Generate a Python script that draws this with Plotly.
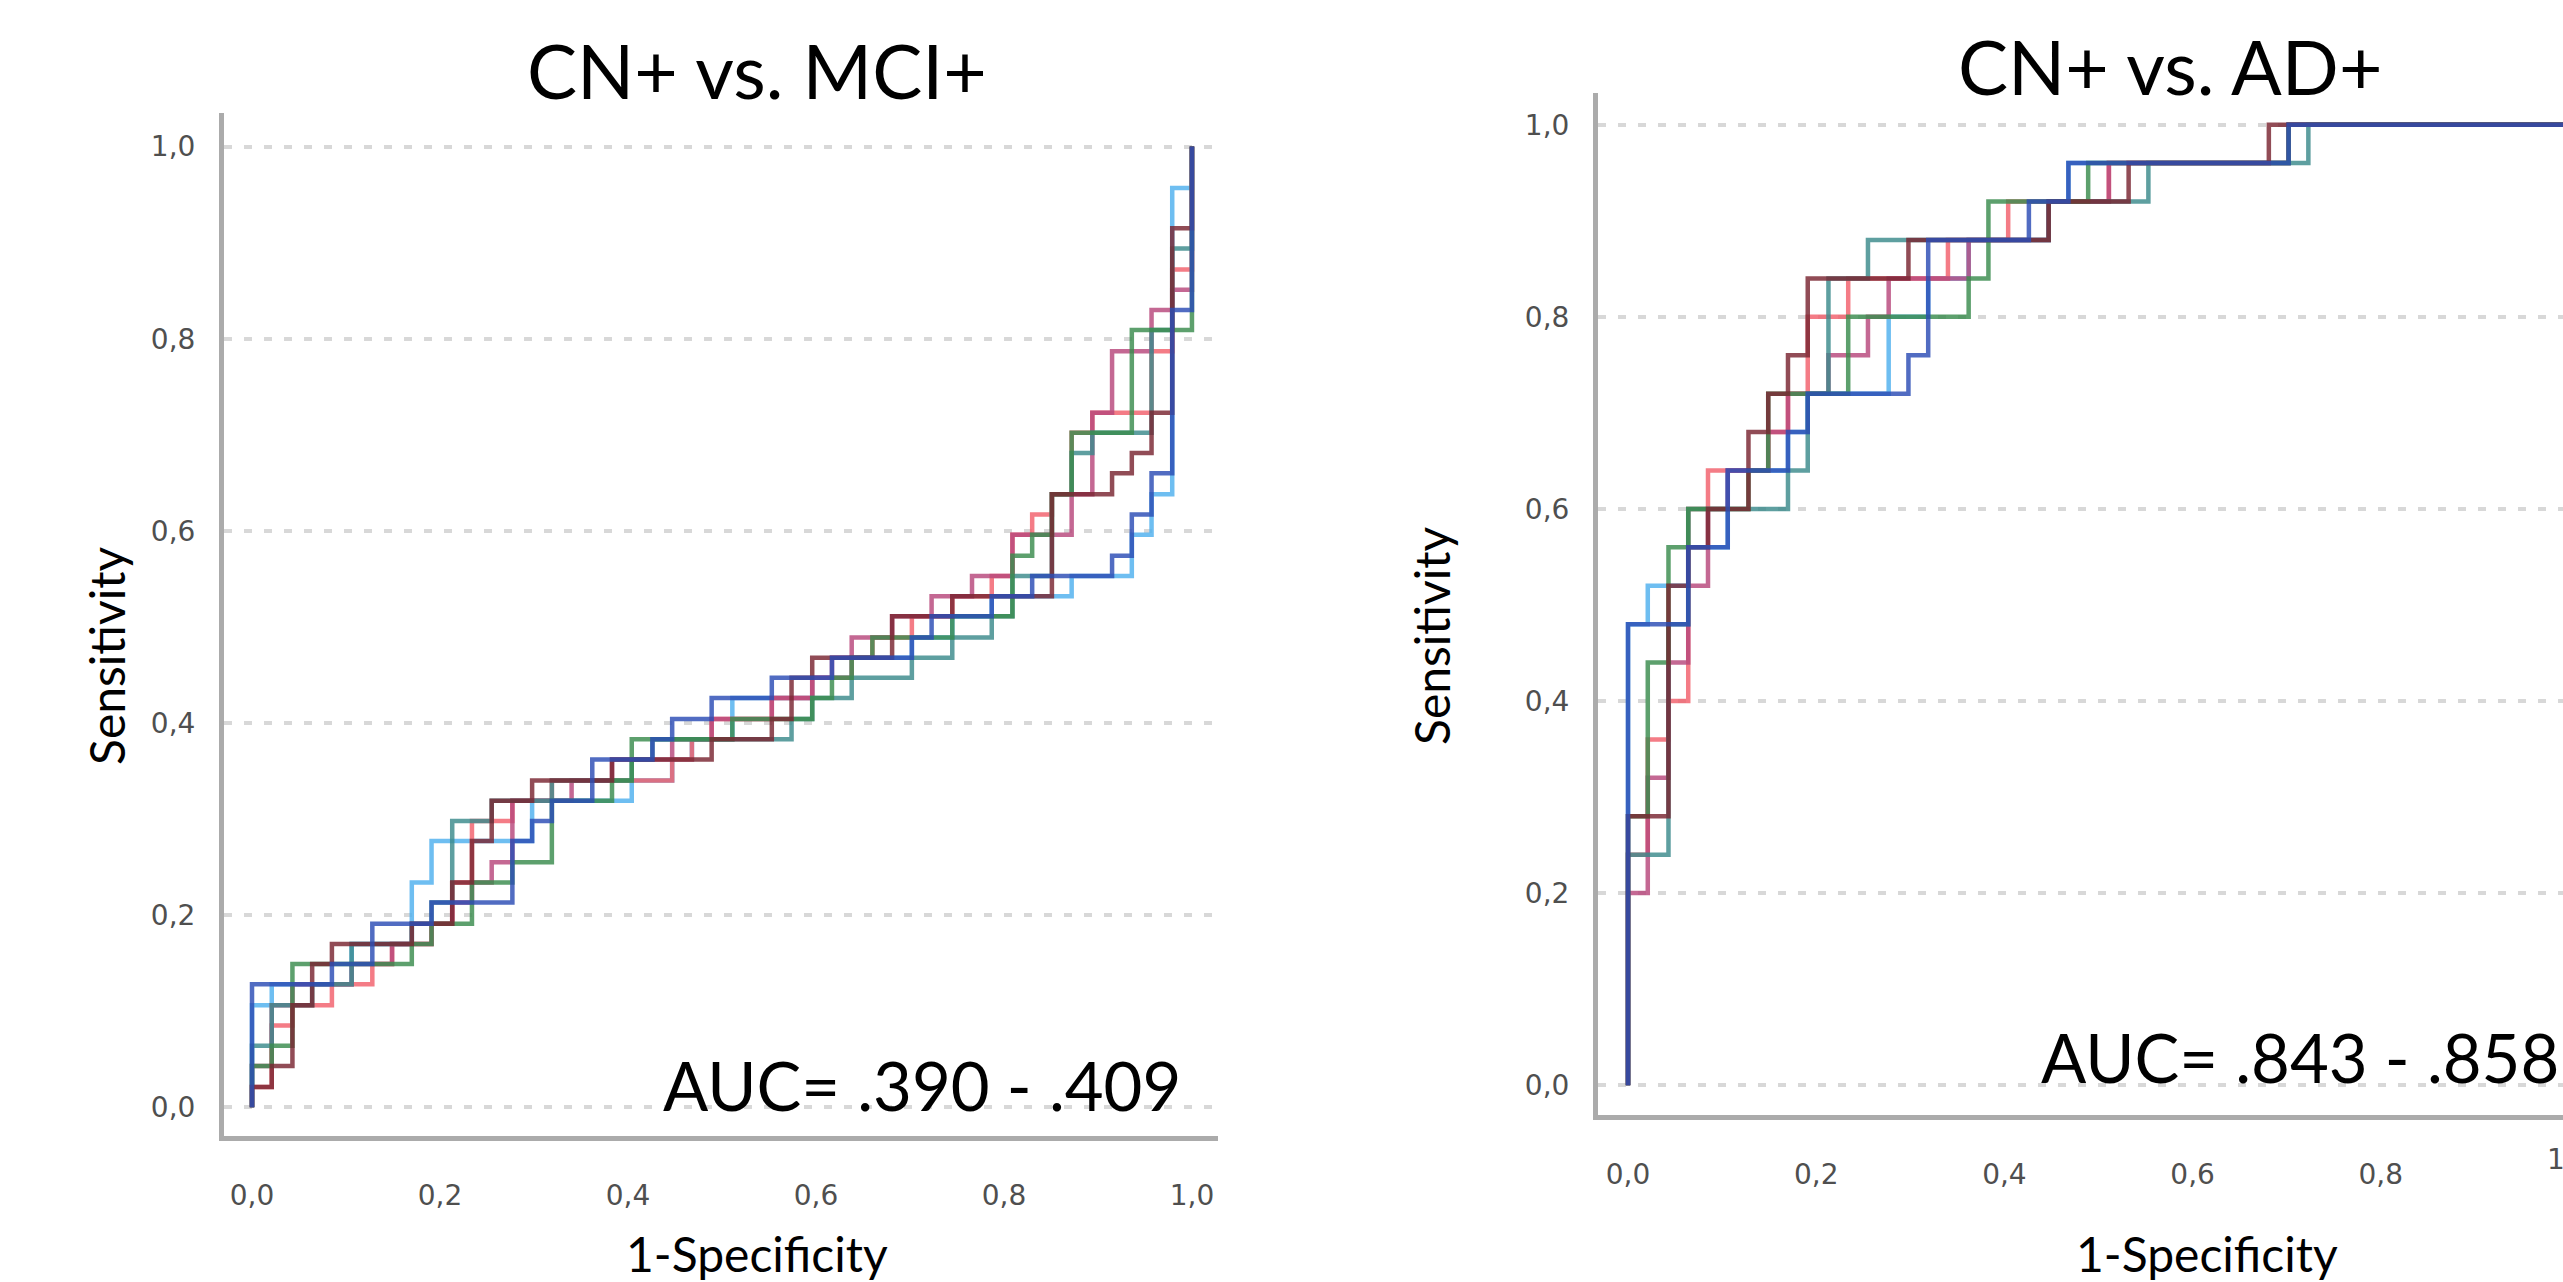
import plotly.graph_objects as go

# ---------------- data ----------------
# Each ROC curve is given by the ends of its horizontal steps (drawn with a vertical-then-horizontal step shape).
tick_vals = [0.0, 0.2, 0.4, 0.6, 0.8, 1.0]
tick_text = ["0,0", "0,2", "0,4", "0,6", "0,8", "1,0"]

series_names = ["light blue", "red", "magenta", "teal", "green", "maroon", "blue"]
series_colors = ["#4fb0ef", "#f2606c", "#b8487c", "#3b8a8c", "#3a8c4e", "#7a2632", "#2b4db5"]

# Panel 1: CN+ vs. MCI+
mci_fpr = {
    "light blue": [0, .021, .106, .170, .191, .298, .404, .447, .468, .511, .596, .638, .702, .745, .787, .872, .936, .957, .979, 1, 1],
    "red": [0, .021, .043, .085, .128, .149, .191, .213, .234, .277, .319, .447, .468, .489, .553, .596, .638, .660, .702, .745, .787, .809, .830, .851, .872, .894, .957, .979, 1, 1],
    "magenta": [0, .021, .043, .106, .149, .191, .213, .234, .255, .277, .340, .383, .447, .489, .553, .596, .617, .638, .681, .723, .766, .809, .872, .894, .915, .957, .979, 1, 1],
    "teal": [0, .021, .064, .106, .170, .191, .213, .255, .319, .404, .426, .574, .596, .638, .702, .745, .787, .809, .851, .872, .894, .957, .979, 1, 1],
    "green": [0, .021, .043, .170, .191, .234, .277, .319, .383, .404, .511, .596, .617, .638, .660, .745, .809, .830, .851, .872, .936, 1, 1],
    "maroon": [0, .021, .043, .064, .085, .170, .213, .234, .255, .298, .383, .489, .553, .574, .596, .681, .745, .851, .915, .936, .957, .979, 1, 1],
    "blue": [0, .085, .128, .191, .277, .298, .319, .362, .426, .447, .489, .553, .617, .702, .723, .787, .830, .915, .936, .957, .979, 1, 1],
}
mci_tpr = {
    "light blue": [0, .106, .128, .170, .234, .277, .319, .340, .362, .383, .426, .447, .468, .489, .511, .532, .553, .596, .638, .957, 1],
    "red": [0, .021, .085, .106, .128, .149, .170, .191, .234, .298, .319, .340, .362, .383, .404, .426, .447, .468, .489, .511, .532, .553, .596, .617, .638, .702, .723, .787, .872, 1],
    "magenta": [0, .043, .106, .128, .149, .170, .191, .213, .234, .255, .319, .340, .362, .383, .404, .426, .447, .468, .489, .511, .532, .553, .596, .638, .723, .787, .830, .851, 1],
    "teal": [0, .064, .106, .128, .170, .191, .213, .298, .319, .340, .362, .383, .404, .426, .447, .468, .489, .511, .553, .638, .681, .702, .809, .894, 1],
    "green": [0, .043, .064, .149, .170, .191, .234, .255, .319, .340, .383, .404, .426, .447, .468, .489, .511, .574, .596, .638, .702, .809, 1],
    "maroon": [0, .021, .043, .106, .149, .170, .191, .234, .277, .319, .340, .362, .383, .404, .447, .468, .511, .532, .638, .660, .681, .723, .915, 1],
    "blue": [0, .128, .149, .191, .213, .277, .298, .319, .362, .383, .404, .426, .447, .468, .489, .511, .532, .553, .574, .617, .660, .830, 1],
}

# Panel 2: CN+ vs. AD+
ad_fpr = {
    "light blue": [0, .021, .064, .106, .170, .191, .277, .319, .362, .447, .468, .702, 1],
    "red": [0, .021, .043, .064, .085, .149, .170, .191, .234, .340, .404, .511, .702, 1],
    "magenta": [0, .021, .043, .064, .085, .106, .149, .170, .213, .255, .277, .362, .447, .511, .702, 1],
    "teal": [0, .043, .064, .170, .191, .213, .255, .447, .553, .723, 1],
    "green": [0, .021, .043, .064, .128, .149, .234, .362, .383, .489, .702, 1],
    "maroon": [0, .043, .064, .085, .128, .149, .170, .191, .298, .447, .532, .681, 1],
    "blue": [0, .064, .106, .170, .191, .298, .319, .426, .468, .702, 1],
}
ad_tpr = {
    "light blue": [0, .48, .52, .56, .64, .68, .72, .80, .84, .88, .92, .96, 1],
    "red": [0, .24, .36, .40, .60, .64, .68, .72, .80, .84, .88, .92, .96, 1],
    "magenta": [0, .20, .32, .44, .52, .60, .64, .68, .72, .76, .80, .84, .88, .92, .96, 1],
    "teal": [0, .24, .48, .60, .64, .72, .84, .88, .92, .96, 1],
    "green": [0, .28, .44, .56, .60, .64, .72, .80, .84, .92, .96, 1],
    "maroon": [0, .28, .52, .56, .60, .68, .72, .76, .84, .88, .92, .96, 1],
    "blue": [0, .48, .56, .64, .68, .72, .76, .88, .92, .96, 1],
}

panel_titles = ["CN+ vs. MCI+", "CN+ vs. AD+"]
auc_texts = ["AUC= .390 - .409", "AUC= .843 - .858"]
x_title = "1-Specificity"
y_title = "Sensitivity"

# ---------------- figure ----------------
W, H = 2563, 1282
fig = go.Figure()

for fprs, tprs, xa, ya in [(mci_fpr, mci_tpr, "x", "y"), (ad_fpr, ad_tpr, "x2", "y2")]:
    for name, color in zip(series_names, series_colors):
        fig.add_trace(go.Scatter(
            x=fprs[name], y=tprs[name], mode="lines", name=name,
            line=dict(color=color, width=4.5, shape="vh"),
            opacity=0.82, xaxis=xa, yaxis=ya, showlegend=False, hoverinfo="skip",
        ))

tickfont = dict(family="DejaVu Sans", size=28, color="#4f4f4f")
common_x = dict(showgrid=False, zeroline=False, showline=True, linecolor="#ababab", linewidth=5,
                tickmode="array", tickvals=tick_vals, ticktext=tick_text, ticks="outside",
                ticklen=30, tickcolor="rgba(0,0,0,0)", tickfont=tickfont, fixedrange=True)
common_y = dict(showgrid=True, gridcolor="#d8d8d8", gridwidth=4, griddash="8px,12px",
                zeroline=False, showline=True, linecolor="#ababab", linewidth=5,
                tickmode="array", tickvals=tick_vals, ticktext=tick_text, ticks="outside",
                ticklen=18, tickcolor="rgba(0,0,0,0)", tickfont=tickfont, fixedrange=True)

def px_x(p):
    return p / W

def px_y(p):
    return 1 - p / H

fig.update_layout(
    width=W, height=H, margin=dict(l=0, r=0, t=0, b=0),
    paper_bgcolor="white", plot_bgcolor="white", showlegend=False,
    xaxis=dict(common_x, domain=[px_x(224), px_x(1218)], range=[-0.0298, 1.0277], anchor="y"),
    yaxis=dict(common_y, domain=[px_y(1136), px_y(113)], range=[-0.030, 1.035], anchor="x"),
    xaxis2=dict(common_x, domain=[px_x(1598), 1.0], range=[-0.0319, 0.9936], anchor="y2"),
    yaxis2=dict(common_y, domain=[px_y(1115), px_y(93)], range=[-0.031, 1.033], anchor="x2"),
)

ann = []
big = dict(family="Lato", size=75, color="black")
mid = dict(family="Lato", size=67, color="black")
lab = dict(family="Lato", size=48, color="black")
ann.append(dict(text=panel_titles[0], x=px_x(757), y=px_y(70), font=big))
ann.append(dict(text=panel_titles[1], x=px_x(2170), y=px_y(66), font=big))
ann.append(dict(text=auc_texts[0], x=px_x(922), y=px_y(1085), font=mid))
ann.append(dict(text=auc_texts[1], x=px_x(2300), y=px_y(1057), font=mid))
ann.append(dict(text=x_title, x=px_x(757), y=px_y(1253), font=lab))
ann.append(dict(text=x_title, x=px_x(2207), y=px_y(1253), font=lab))
ann.append(dict(text=y_title, x=px_x(106), y=px_y(656), font=lab, textangle=-90))
ann.append(dict(text=y_title, x=px_x(1431), y=px_y(636), font=lab, textangle=-90))
# the right panel's last x tick label is cut by the picture edge, as in the reference
ann.append(dict(text=tick_text[-1], x=px_x(1628 + 941), y=px_y(1159), font=tickfont))
for a in ann:
    a.update(xref="paper", yref="paper", showarrow=False, xanchor="center", yanchor="middle")
fig.update_layout(annotations=ann)

fig.write_html("out.html", config={"displayModeBar": False},
               post_script="document.body.style.margin='0';document.body.style.overflow='hidden';")
